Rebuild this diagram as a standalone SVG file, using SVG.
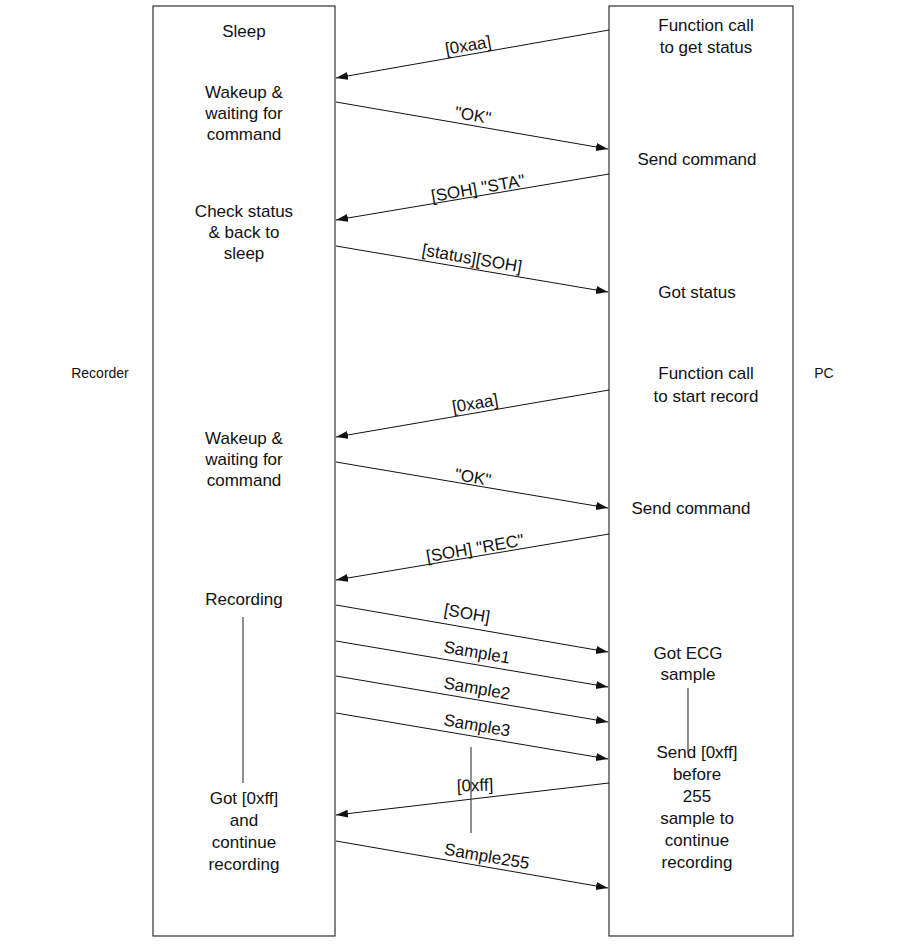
<svg xmlns="http://www.w3.org/2000/svg" width="910" height="948" viewBox="0 0 910 948">
<style>
.box{fill:#fff;stroke:#333;stroke-width:1.2}
.t{font-family:"Liberation Sans",Arial,sans-serif;font-size:17px;fill:#111;text-anchor:middle}
.s{font-size:14px}
.ln{stroke:#111;stroke-width:1;fill:none}
.ar{stroke:#111;stroke-width:1;fill:none;marker-end:url(#ah)}
.v{stroke:#444;stroke-width:1.2}
</style>
<defs>
<marker id="ah" markerUnits="userSpaceOnUse" markerWidth="14" markerHeight="10" refX="12" refY="4" orient="auto">
<path d="M0,0 L12,4 L0,8 Z" fill="#111"/>
</marker>
</defs>
<rect width="910" height="948" fill="#fff"/>
<g id="recorder">
<rect class="box" x="153" y="6" width="182" height="930"/>
<text class="t" x="244" y="37">Sleep</text>
<text class="t" x="244" y="98">Wakeup &amp;</text>
<text class="t" x="244" y="119">waiting for</text>
<text class="t" x="244" y="140">command</text>
<text class="t" x="244" y="217">Check status</text>
<text class="t" x="244" y="238">&amp; back to</text>
<text class="t" x="244" y="259">sleep</text>
<text class="t" x="244" y="444">Wakeup &amp;</text>
<text class="t" x="244" y="465">waiting for</text>
<text class="t" x="244" y="486">command</text>
<text class="t" x="244" y="605">Recording</text>
<text class="t" x="244" y="804">Got [0xff]</text>
<text class="t" x="244" y="826">and</text>
<text class="t" x="244" y="848">continue</text>
<text class="t" x="244" y="870">recording</text>
<line class="v" x1="243" y1="617" x2="243" y2="783"/>
</g>
<g id="pc">
<rect class="box" x="609" y="6" width="184" height="930"/>
<text class="t" x="706" y="31">Function call</text>
<text class="t" x="706" y="53">to get status</text>
<text class="t" x="697" y="165">Send command</text>
<text class="t" x="697" y="298">Got status</text>
<text class="t" x="706" y="379">Function call</text>
<text class="t" x="706" y="402">to start record</text>
<text class="t" x="691" y="514">Send command</text>
<text class="t" x="688" y="659">Got ECG</text>
<text class="t" x="688" y="680">sample</text>
<text class="t" x="697" y="758">Send [0xff]</text>
<text class="t" x="697" y="780">before</text>
<text class="t" x="697" y="802">255</text>
<text class="t" x="697" y="824">sample to</text>
<text class="t" x="697" y="846">continue</text>
<text class="t" x="697" y="868">recording</text>
<line class="v" x1="688" y1="688" x2="688" y2="753"/>
</g>
<g id="labels">
<text class="t s" x="100" y="378">Recorder</text>
<text class="t s" x="824" y="378">PC</text>
</g>
<g id="connectors">
<line class="ar" x1="609" y1="30" x2="336" y2="78"/>
<line class="ar" x1="336" y1="102" x2="608" y2="149"/>
<line class="ar" x1="609" y1="174" x2="336" y2="220"/>
<line class="ar" x1="336" y1="246" x2="608" y2="292"/>
<line class="ar" x1="609" y1="390" x2="336" y2="437"/>
<line class="ar" x1="336" y1="462" x2="608" y2="508"/>
<line class="ar" x1="609" y1="534" x2="336" y2="580"/>
<line class="ar" x1="336" y1="605" x2="608" y2="652"/>
<line class="ar" x1="336" y1="641" x2="608" y2="687"/>
<line class="ar" x1="336" y1="676" x2="608" y2="722"/>
<line class="ar" x1="336" y1="713" x2="608" y2="759"/>
<line class="ar" x1="609" y1="783" x2="336" y2="815"/>
<line class="ar" x1="336" y1="841" x2="608" y2="888"/>
<line class="v" x1="471" y1="747" x2="471" y2="833"/>
<g class="t">
<text transform="translate(468,45) rotate(-9.8)" y="6">[0xaa]</text>
<text transform="translate(473,115) rotate(9.8)" y="6">"OK"</text>
<text transform="translate(478,188) rotate(-9.8)" y="6">[SOH] "STA"</text>
<text transform="translate(472,258) rotate(9.8)" y="6">[status][SOH]</text>
<text transform="translate(475,403) rotate(-9.8)" y="6">[0xaa]</text>
<text transform="translate(473,477) rotate(9.8)" y="6">"OK"</text>
<text transform="translate(475,548) rotate(-9.8)" y="6">[SOH] "REC"</text>
<text transform="translate(467,613) rotate(9.8)" y="6">[SOH]</text>
<text transform="translate(477,652) rotate(9.8)" y="6">Sample1</text>
<text transform="translate(477,688) rotate(9.8)" y="6">Sample2</text>
<text transform="translate(477,725) rotate(9.8)" y="6">Sample3</text>
<text transform="translate(475,785) rotate(-2)" y="6">[0xff]</text>
<text transform="translate(487,856) rotate(9.8)" y="6">Sample255</text>
</g>
</g>
</svg>
